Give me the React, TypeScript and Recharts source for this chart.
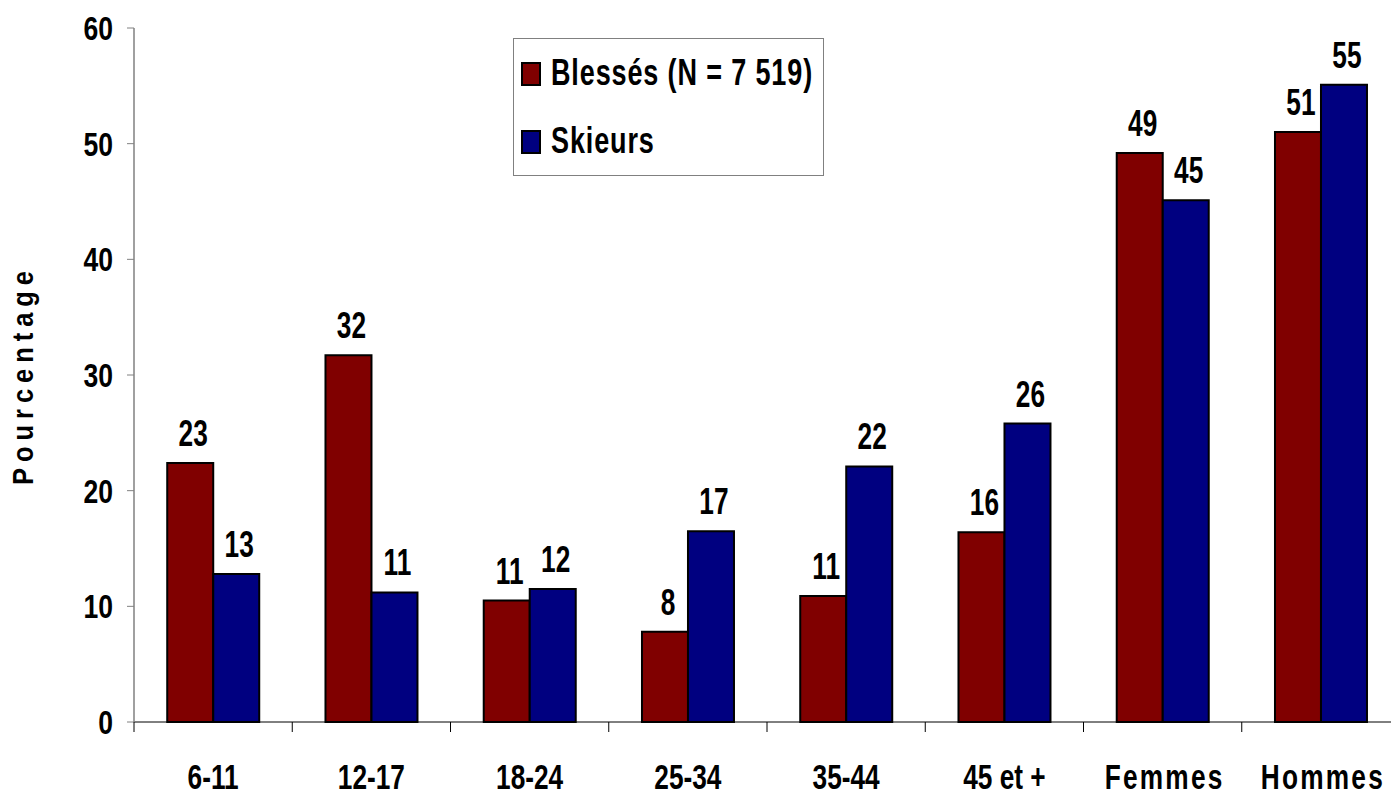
import React from 'react';
import { BarChart, Bar, XAxis, YAxis, Legend, LabelList } from 'recharts';

const categories = ['6-11', '12-17', '18-24', '25-34', '35-44', '45 et +', 'Femmes', 'Hommes'];
const blesses = [22.4, 31.7, 10.5, 7.8, 10.9, 16.4, 49.2, 51.0];
const skieurs = [12.8, 11.2, 11.5, 16.5, 22.1, 25.8, 45.1, 55.1];
const blessesLabels = [23, 32, 11, 8, 11, 16, 49, 51];
const skieursLabels = [13, 11, 12, 17, 22, 26, 45, 55];
const yTicks = [0, 10, 20, 30, 40, 50, 60];
const seriesNames = ['Blessés (N = 7 519)', 'Skieurs'];
const spacedLabels = ['Femmes', 'Hommes'];

const RED = '#800000';
const BLUE = '#000080';
const FONT = "'Liberation Sans', Arial, sans-serif";

const data = categories.map((c, i) => ({
  cat: c,
  blesses: blesses[i],
  skieurs: skieurs[i],
  blessesLabel: blessesLabels[i],
  skieursLabel: skieursLabels[i],
}));

const SText = ({ x, y, sx, size, anchor = 'middle', spacing = 0, children }: any) => (
  <text
    transform={`translate(${x},${y}) scale(${sx},1)`}
    textAnchor={anchor}
    fontFamily={FONT}
    fontWeight="bold"
    fontSize={size}
    fill="#000"
    style={{ letterSpacing: spacing }}
  >
    {children}
  </text>
);

const XTick = (props: any) => {
  const { x, y, payload, width } = props;
  const band = width / categories.length;
  const left = x - band / 2;
  const spaced = spacedLabels.includes(payload.value);
  return (
    <g>
      <line x1={left} y1={y} x2={left} y2={y + 10} stroke="#000" strokeWidth={1} />
      <SText x={x + (spaced ? 2 : 0)} y={y + 67} sx={0.75} size={35} spacing={spaced ? 3 : 0}>
        {payload.value}
      </SText>
    </g>
  );
};

const YTick = (props: any) => {
  const { x, y, payload } = props;
  return (
    <SText x={x} y={y + 12} sx={0.78} size={34} anchor="end">
      {payload.value}
    </SText>
  );
};

const BarLabel = (props: any) => {
  const { x, y, width, value } = props;
  return (
    <SText x={x + width / 2 + 3} y={y - 17} sx={0.71} size={37}>
      {value}
    </SText>
  );
};

const LegendBox = () => (
  <svg width={311} height={138} style={{ display: 'block' }}>
    <rect x={0.5} y={0.5} width={310} height={137} fill="#fff" stroke="#808080" strokeWidth={1} />
    <rect x={9} y={25} width={18} height={22} fill={RED} stroke="#000" strokeWidth={2} />
    <SText x={38} y={47} sx={0.73} size={37} anchor="start" spacing={1.2}>
      {seriesNames[0]}
    </SText>
    <rect x={9} y={93} width={18} height={22} fill={BLUE} stroke="#000" strokeWidth={2} />
    <SText x={38} y={115} sx={0.73} size={37} anchor="start" spacing={1.2}>
      {seriesNames[1]}
    </SText>
  </svg>
);

const YLabel = (props: any) => {
  const vb = props.viewBox || { x: 0, y: 28, width: 134, height: 694 };
  const cy = vb.y + vb.height / 2;
  const cx = 33;
  return (
    <text
      transform={`translate(${cx},${cy}) rotate(-90) scale(0.85,1)`}
      textAnchor="middle"
      fontFamily={FONT}
      fontWeight="bold"
      fontSize={30}
      fill="#000"
      style={{ letterSpacing: 7 }}
    >
      Pourcentage
    </text>
  );
};

export default function App() {
  return (
    <div style={{ position: 'absolute', left: 0, top: 0, width: 1391, height: 796, overflow: 'hidden', background: '#fff' }}>
      <BarChart
        width={1410}
        height={796}
        data={data}
        margin={{ top: 28, right: 10, bottom: 0, left: 0 }}
        barCategoryGap="21%"
        barGap={0}
      >
        <XAxis
          dataKey="cat"
          height={74}
          axisLine={{ stroke: '#000', strokeWidth: 1 }}
          tickLine={false}
          tickSize={0}
          tickMargin={0}
          tick={<XTick />}
          interval={0}
        />
        <YAxis
          width={134}
          domain={[0, 60]}
          ticks={yTicks}
          axisLine={{ stroke: '#808080', strokeWidth: 1.5 }}
          tickLine={{ stroke: '#808080', strokeWidth: 1 }}
          tickSize={7}
          tickMargin={14}
          tick={<YTick />}
          interval={0}
          label={{ content: YLabel }}
        />
        <Legend
          layout="vertical"
          verticalAlign="middle"
          align="center"
          content={<LegendBox />}
          wrapperStyle={{ position: 'absolute', left: 513, top: 38, width: 311, height: 138 }}
        />
        <Bar dataKey="blesses" name={seriesNames[0]} fill={RED} stroke="#000" strokeWidth={2} isAnimationActive={false}>
          <LabelList dataKey="blessesLabel" content={BarLabel} />
        </Bar>
        <Bar dataKey="skieurs" name={seriesNames[1]} fill={BLUE} stroke="#000" strokeWidth={2} isAnimationActive={false}>
          <LabelList dataKey="skieursLabel" content={BarLabel} />
        </Bar>
      </BarChart>
    </div>
  );
}
